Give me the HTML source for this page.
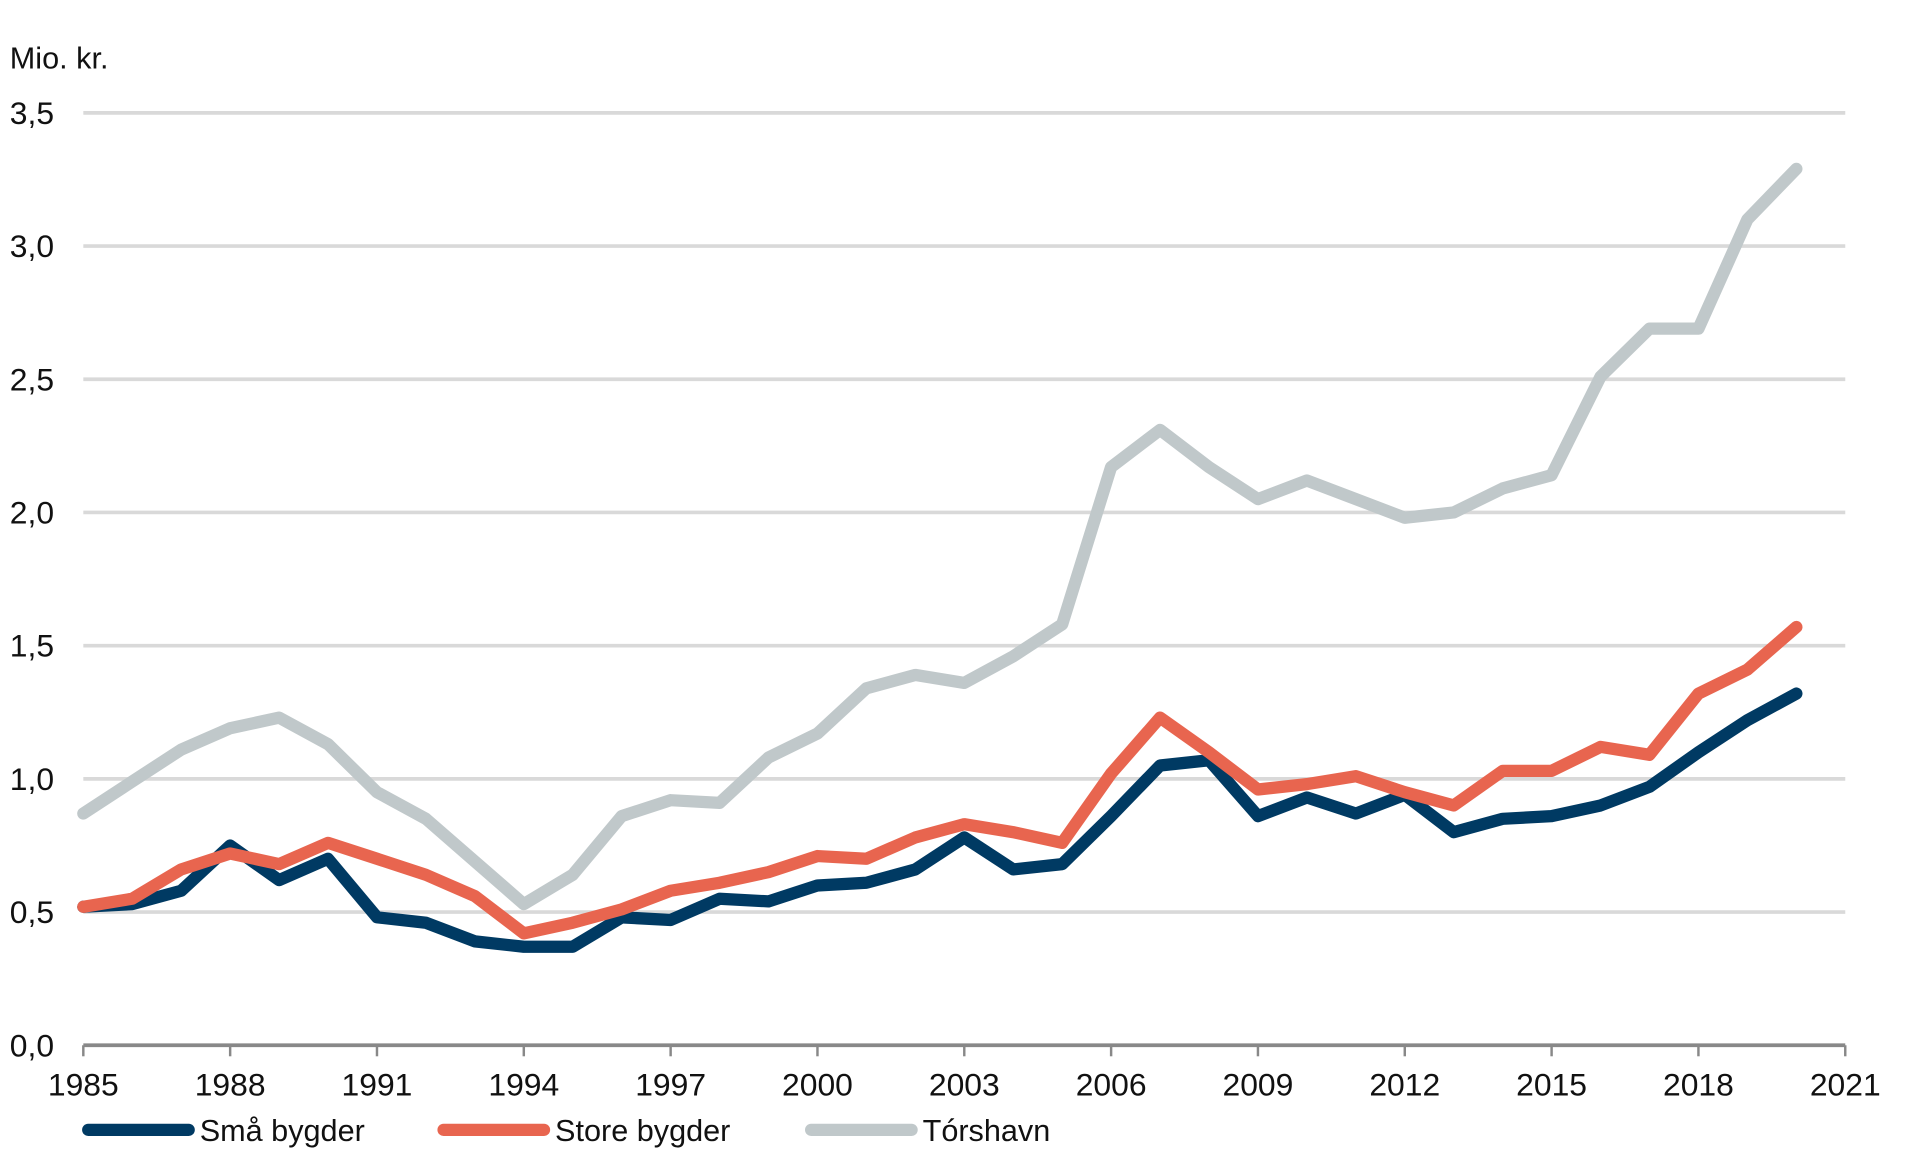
<!DOCTYPE html>
<html><head><meta charset="utf-8"><style>
html,body{margin:0;padding:0;background:#fff;}
svg{display:block;}
text{font-family:"Liberation Sans",sans-serif;fill:#111;}
</style></head><body>
<svg id="c" width="1920" height="1158" viewBox="0 0 1567 945" preserveAspectRatio="none" xmlns="http://www.w3.org/2000/svg">
<g id="grid" stroke="#d9d9d9" stroke-width="3"></g>
<g id="lab" font-size="26"></g>
<text x="8" y="56" font-size="25">Mio. kr.</text>
<line x1="68" y1="853" x2="1506" y2="853" stroke="#888" stroke-width="3"/>
<g id="ticks" stroke="#888" stroke-width="2"></g>
<g id="series" fill="none" stroke-width="10" stroke-linejoin="round" stroke-linecap="round"></g>
<g font-size="25">
<line x1="72" y1="922" x2="154" y2="922" stroke="#003a63" stroke-width="10" stroke-linecap="round"/>
<text x="163" y="931">Små bygder</text>
<line x1="362" y1="922" x2="444" y2="922" stroke="#e8654f" stroke-width="10" stroke-linecap="round"/>
<text x="453" y="931">Store bygder</text>
<line x1="662" y1="922" x2="744" y2="922" stroke="#c0c8ca" stroke-width="10" stroke-linecap="round"/>
<text x="753" y="931">Tórshavn</text>
</g>
</svg>
<script>
const ns="http://www.w3.org/2000/svg";
function el(p,t,a){const e=document.createElementNS(ns,t);for(const k in a)e.setAttribute(k,a[k]);p.appendChild(e);return e;}
const X=y=>68+(y-1985)*(1438/36), Y=v=>853-v*217.4;
const g=document.getElementById('grid'),lab=document.getElementById('lab'),tk=document.getElementById('ticks');
for(let i=1;i<=7;i++){el(g,'line',{x1:68,x2:1506,y1:Y(i/2),y2:Y(i/2)});}
for(let i=0;i<=7;i++){const t=el(lab,'text',{x:8,y:Y(i/2)+9});t.textContent=(i/2).toFixed(1).replace('.',',');}
for(let y=1985;y<=2021;y+=3){el(tk,'line',{x1:X(y),x2:X(y),y1:853,y2:862});const t=el(lab,'text',{x:X(y),y:894,'text-anchor':'middle'});t.textContent=y;}
const S={
"#c0c8ca":[0.87,0.99,1.11,1.19,1.23,1.13,0.95,0.85,0.69,0.53,0.64,0.86,0.92,0.91,1.08,1.17,1.34,1.39,1.36,1.46,1.58,2.17,2.31,2.17,2.05,2.12,2.05,1.98,2.00,2.09,2.14,2.51,2.69,2.69,3.10,3.29],
"#003a63":[0.52,0.53,0.58,0.75,0.62,0.70,0.48,0.46,0.39,0.37,0.37,0.48,0.47,0.55,0.54,0.60,0.61,0.66,0.78,0.66,0.68,0.86,1.05,1.07,0.86,0.93,0.87,0.94,0.80,0.85,0.86,0.90,0.97,1.10,1.22,1.32],
"#e8654f":[0.52,0.55,0.66,0.72,0.68,0.76,0.70,0.64,0.56,0.42,0.46,0.51,0.58,0.61,0.65,0.71,0.70,0.78,0.83,0.80,0.76,1.02,1.23,1.10,0.96,0.98,1.01,0.95,0.90,1.03,1.03,1.12,1.09,1.32,1.41,1.57]};
const sg=document.getElementById('series');
for(const c in S){el(sg,'polyline',{stroke:c,points:S[c].map((v,i)=>X(1985+i).toFixed(1)+','+Y(v).toFixed(1)).join(' ')});}
</script>
</body></html>
